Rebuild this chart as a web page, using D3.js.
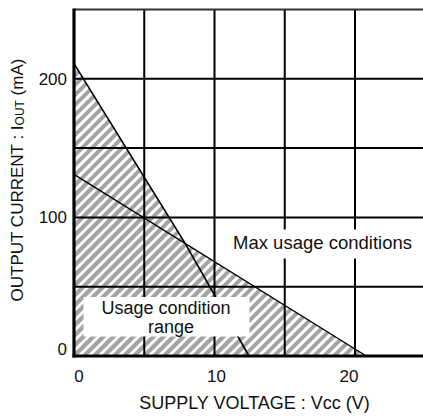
<!DOCTYPE html>
<html><head><meta charset="utf-8">
<script src="https://cdn.jsdelivr.net/npm/d3@7"></script>
<style>
html,body{margin:0;padding:0;background:#fff;overflow:hidden}
text{font-family:"Liberation Sans",Arial,sans-serif;fill:#111}
</style></head>
<body><svg id="c" width="423" height="418"></svg>
<script>
// ---- data ----
const xGrid = [0, 5, 10, 15, 20, 25];
const yGrid = [0, 50, 100, 150, 200, 250];
const xTicks = [0, 10, 20];
const yTicks = [0, 100, 200];
const steepV = [0, 7.9, 10, 12.45];      // usage condition range boundary
const steepI = [211, 81.5, 44, 0];
const shallowV = [0, 20.8];              // max usage conditions boundary
const shallowI = [131, 0];
const xTitle = "SUPPLY VOLTAGE : Vcc (V)";
const yTitleMain = "OUTPUT CURRENT : I";
const yTitleSub = "OUT";
const yTitleEnd = " (mA)";
const labelMax = "Max usage conditions";
const labelUsage = ["Usage condition", "range"];

const svg = d3.select("#c");
const x = d3.scaleLinear().domain([0, 25]).range([74, 425.25]);
const y = d3.scaleLinear().domain([0, 250]).range([356, 9.5]);

const defs = svg.append("defs");
const pat = defs.append("pattern").attr("id","hatch")
  .attr("patternUnits","userSpaceOnUse").attr("width",10).attr("height",10);
pat.append("path").attr("d","M-5,5 L5,-5 M0,10 L10,0 M5,15 L15,5")
  .attr("stroke","#a4a4a4").attr("stroke-width",4);
const blur = defs.append("filter").attr("id","soft");
blur.append("feGaussianBlur").attr("stdDeviation",0.7);

const toPts = (vs, is) => vs.map((v,i)=>[v, is[i]]);
const steepPts = toPts(steepV, steepI);
const shallowPts = toPts(shallowV, shallowI);
const line = d3.line().x(d=>x(d[0])).y(d=>y(d[1]));

// hatched regions (union of both triangles)
const hg = svg.append("g").attr("filter","url(#soft)");
[steepPts, shallowPts].forEach(p=>{
  const poly = [[0,0]].concat(p).concat([[p[p.length-1][0],0]]);
  hg.append("path").attr("d", line(poly)+"Z").attr("fill","url(#hatch)");
});

// grid
svg.append("g").selectAll("line").data(xGrid.filter(v=>v>0)).join("line")
  .attr("x1",d=>x(d)).attr("x2",d=>x(d)).attr("y1",y(250)).attr("y2",y(0))
  .attr("stroke","#000").attr("stroke-width",2);
svg.append("g").selectAll("line").data(yGrid.filter(v=>v>0)).join("line")
  .attr("x1",x(0)).attr("x2",423).attr("y1",d=>y(d)).attr("y2",d=>y(d))
  .attr("stroke",d=>d===250?"#333":"#000").attr("stroke-width",2);
// axes (thick)
svg.append("line").attr("x1",x(0)).attr("x2",x(0)).attr("y1",y(250)-1).attr("y2",y(0)+1.5)
  .attr("stroke","#000").attr("stroke-width",3.2);
svg.append("line").attr("x1",x(0)-1.5).attr("x2",423).attr("y1",y(0)).attr("y2",y(0))
  .attr("stroke","#000").attr("stroke-width",3);

// boundary lines
svg.append("path").attr("d",line(steepPts)).attr("fill","none").attr("stroke","#000").attr("stroke-width",1.6);
svg.append("path").attr("d",line(shallowPts)).attr("fill","none").attr("stroke","#000").attr("stroke-width",1.4);

// label boxes
svg.append("rect").attr("x",228).attr("y",229.5).attr("width",190).attr("height",29).attr("fill","#fff");
svg.append("rect").attr("x",83.5).attr("y",297).attr("width",166).attr("height",39.5).attr("fill","#fff");
svg.append("text").attr("x",322.5).attr("y",249).attr("text-anchor","middle")
  .attr("font-size",18.5).text(labelMax);
svg.append("text").attr("x",166).attr("y",314).attr("text-anchor","middle")
  .attr("font-size",18).text(labelUsage[0]);
svg.append("text").attr("x",171).attr("y",332.5).attr("text-anchor","middle")
  .attr("font-size",18).text(labelUsage[1]);

// tick labels
const xNudge = v => v===0?5:(v===10?2:-6);
svg.append("g").selectAll("text").data(xTicks).join("text")
  .attr("x",d=>x(d)+xNudge(d)).attr("y",382).attr("text-anchor","middle")
  .attr("font-size",17).text(d=>d);
svg.append("g").selectAll("text").data(yTicks).join("text")
  .attr("x",67).attr("y",d=>y(d)+6+(d===0?-7:0)).attr("text-anchor","end")
  .attr("font-size",17).text(d=>d);

// axis titles
svg.append("text").attr("x",254.5).attr("y",409).attr("text-anchor","middle")
  .attr("font-size",18).text(xTitle);
const yt = svg.append("text").attr("transform","translate(23,180) rotate(-90)")
  .attr("text-anchor","middle").attr("font-size",17);
yt.append("tspan").text(yTitleMain);
yt.append("tspan").attr("font-size",12).attr("dy",1).text(yTitleSub);
yt.append("tspan").attr("dy",-1).text(yTitleEnd);
</script></body></html>
